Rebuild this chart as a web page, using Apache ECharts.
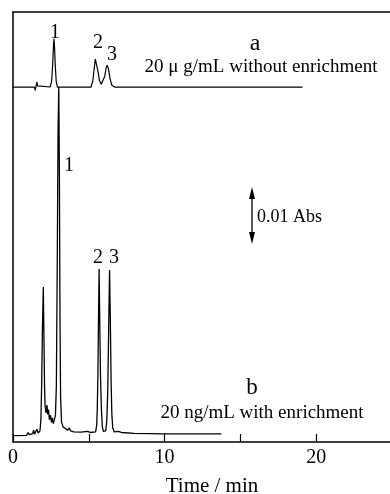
<!DOCTYPE html>
<html><head><meta charset="utf-8">
<script src="https://cdn.jsdelivr.net/npm/echarts@6/dist/echarts.min.js"></script>
<style>html,body{margin:0;padding:0;background:#fff}#c{width:390px;height:494px}</style>
</head><body><div id="c"></div>
<script>
// Trace a: 20 μg/mL without enrichment (signal in mAU, offset for display)
const aTime   = [0, 1.40, 1.47, 1.52, 1.57, 1.62, 1.70, 2.45, 2.55, 2.62, 2.67, 2.70, 2.74, 2.79, 2.85, 2.93, 3.0, 5.15, 5.27, 5.36, 5.43, 5.47, 5.52, 5.60, 5.70, 5.82, 5.92, 6.05, 6.14, 6.22, 6.30, 6.40, 6.52, 6.70, 19.1];
const aSignal = [63.4, 63.4, 62.8, 62.9, 64.3, 63.6, 63.4, 63.4, 64.5, 67.5, 70.8, 72.0, 70.6, 67.2, 64.4, 63.4, 63.3, 63.4, 64.6, 66.8, 68.4, 68.75, 68.2, 66.3, 64.6, 63.9, 64.1, 65.3, 66.8, 67.3, 66.6, 64.9, 63.7, 63.4, 63.4];
// Trace b: 20 ng/mL with enrichment
const bTime   = [0, 0.9, 1.0, 1.08, 1.3, 1.36, 1.42, 1.52, 1.58, 1.66, 1.78, 1.84, 1.89, 1.94, 2.00, 2.04, 2.08, 2.12, 2.18, 2.24, 2.29, 2.34, 2.40, 2.47, 2.54, 2.60, 2.66, 2.72, 2.80, 2.86, 2.92, 2.97, 3.02, 3.06, 3.10, 3.14, 3.20, 3.30, 3.45, 3.60, 3.72, 3.80, 4.0, 4.5, 4.9, 5.1, 5.45, 5.52, 5.56, 5.60, 5.64, 5.68, 5.72, 5.77, 5.83, 5.89, 5.96, 6.12, 6.19, 6.25, 6.31, 6.37, 6.42, 6.47, 6.52, 6.58, 6.68, 6.95, 7.05, 7.15, 8.0, 10.0, 12.0, 13.75];
const bSignal = [1.15, 1.2, 1.7, 1.3, 1.5, 2.1, 1.4, 1.6, 2.3, 1.6, 2.0, 4, 10, 20, 27.7, 19, 10, 6.3, 5.2, 6.6, 4.9, 5.8, 4.0, 4.8, 3.5, 4.3, 3.3, 3.9, 4.8, 10, 32, 55, 63.4, 48, 22, 8, 3.6, 2.7, 2.4, 2.1, 2.5, 2.0, 1.8, 1.75, 1.9, 1.7, 1.8, 3.0, 6, 12, 22, 30.9, 22, 12, 6, 2.8, 1.9, 2.0, 4, 9, 20, 30.7, 22, 11, 5, 2.5, 1.8, 1.9, 2.2, 1.7, 1.55, 1.45, 1.45, 1.45];
const xLabels = ['0', '10', '20'];
const peakLabels = ['1', '2', '3'];
const traceNames = ['a', 'b'];
const traceNotes = ['20 \u03bc g/mL without enrichment', '20 ng/mL with enrichment'];
const scaleText = '0.01 Abs';
const axisTitle = 'Time / min';

const FONT = '"Liberation Serif","Times New Roman",serif';
const zip = (t, v) => t.map((x, i) => [x, v[i]]);
const chart = echarts.init(document.getElementById('c'), null, {renderer: 'canvas'});
function txt(s, x, y, size, align) {
  return {type: 'text', x: x, y: y, style: {text: s, font: size + 'px ' + FONT, fill: '#000', textAlign: align || 'center', textVerticalAlign: 'middle'}};
}
const ax = {show: true, lineStyle: {color: '#000', width: 1.5}};
chart.setOption({
  animation: false,
  backgroundColor: '#fff',
  grid: {left: 13, top: 12, width: 379, height: 430, containLabel: false, outerBoundsMode: 'none'},
  xAxis: [{
    type: 'value', min: 0, max: 25, interval: 5,
    axisLine: ax,
    axisTick: {show: true, inside: true, length: 8, lineStyle: {color: '#000', width: 1.2}},
    splitLine: {show: false},
    axisLabel: {color: '#000', fontFamily: FONT, fontSize: 20, margin: 6,
      formatter: v => xLabels.indexOf(String(v)) >= 0 ? String(v) : ''},
    name: axisTitle, nameLocation: 'middle', nameGap: 34,
    nameTextStyle: {color: '#000', fontFamily: FONT, fontSize: 21, padding: [0, 0, 0, 19]}
  }, {
    type: 'value', min: 0, max: 25, position: 'top',
    axisLine: ax, axisTick: {show: false}, axisLabel: {show: false}, splitLine: {show: false}
  }],
  yAxis: {type: 'value', min: 0, max: 76.8, axisLine: ax, axisTick: {show: false}, axisLabel: {show: false}, splitLine: {show: false}},
  series: [
    {type: 'line', data: zip(aTime, aSignal), showSymbol: false, lineStyle: {color: '#000', width: 1.2}},
    {type: 'line', data: zip(bTime, bSignal), showSymbol: false, lineStyle: {color: '#000', width: 1.3}}
  ],
  graphic: [
    txt(peakLabels[0], 55, 33, 20), txt(peakLabels[1], 98, 43, 20), txt(peakLabels[2], 112, 55, 20),
    txt(traceNames[0], 255, 44, 24), txt(traceNotes[0], 261, 67, 19),
    txt(peakLabels[0], 69, 166, 20), txt(peakLabels[1], 98, 258, 20), txt(peakLabels[2], 114, 258, 20),
    txt(traceNames[1], 252, 388, 23), txt(traceNotes[1], 262, 413, 19),
    txt(scaleText, 257, 217, 18, 'left'),
    {type: 'line', shape: {x1: 252, y1: 195, x2: 252, y2: 236}, style: {stroke: '#000', lineWidth: 1.3}},
    {type: 'polygon', shape: {points: [[252, 187], [249, 199], [255, 199]]}, style: {fill: '#000'}},
    {type: 'polygon', shape: {points: [[252, 244], [249, 232], [255, 232]]}, style: {fill: '#000'}}
  ]
});
</script></body></html>
